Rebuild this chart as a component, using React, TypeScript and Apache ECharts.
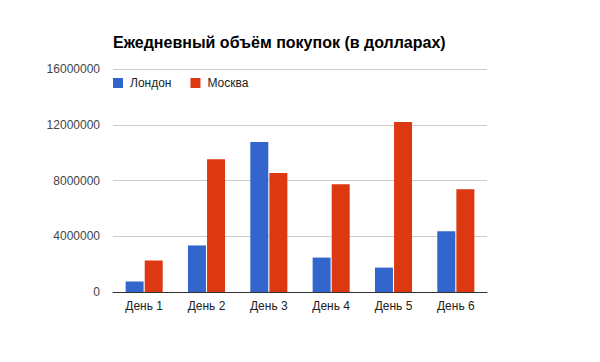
import React, { useEffect, useRef } from "react";
import * as echarts from "echarts";

const categories = ["День 1", "День 2", "День 3", "День 4", "День 5", "День 6"];
const london = [750000, 3340000, 10760000, 2470000, 1750000, 4350000];
const moscow = [2260000, 9530000, 8530000, 7730000, 12200000, 7370000];

const FONT = "Arial, 'Liberation Sans', sans-serif";

export default function App() {
  const ref = useRef<HTMLDivElement>(null);
  useEffect(() => {
    if (!ref.current) return;
    const chart = echarts.init(ref.current, undefined, { renderer: "svg" });
    chart.setOption({
      animation: false,
      backgroundColor: "#ffffff",
      title: {
        text: "Ежедневный объём покупок (в долларах)",
        left: 113,
        top: 34,
        padding: 0,
        textStyle: { fontFamily: FONT, fontSize: 16, fontWeight: "bold", color: "#000" },
      },
      legend: {
        left: 113,
        top: 77,
        padding: 0,
        itemWidth: 10,
        itemHeight: 10,
        itemGap: 19,
        icon: "rect",
        textStyle: { fontFamily: FONT, fontSize: 12, color: "#222", padding: [0, 0, 0, 2] },
        data: ["Лондон", "Москва"],
      },
      grid: { left: 113, right: 113, top: 69, bottom: 70, containLabel: false },
      xAxis: {
        type: "category",
        data: categories,
        axisLine: { lineStyle: { color: "#333", width: 1 } },
        axisTick: { show: false },
        axisLabel: { fontFamily: FONT, fontSize: 12, color: "#222", margin: 8 },
      },
      yAxis: {
        type: "value",
        min: 0,
        max: 16000000,
        interval: 4000000,
        axisLine: { show: false },
        axisTick: { show: false },
        splitLine: { lineStyle: { color: "#cccccc", width: 1 } },
        axisLabel: {
          fontFamily: FONT,
          fontSize: 12,
          color: "#444",
          margin: 13,
          formatter: (v: number) => String(v),
        },
      },
      series: [
        {
          name: "Лондон",
          type: "bar",
          data: london,
          barWidth: 18,
          barGap: "6%",
          itemStyle: { color: "#3366cc" },
        },
        {
          name: "Москва",
          type: "bar",
          data: moscow,
          barWidth: 18,
          barGap: "6%",
          itemStyle: { color: "#dc3912" },
        },
      ],
    });
    return () => chart.dispose();
  }, []);
  return (
    <div
      ref={ref}
      style={{ position: "fixed", left: 0, top: 0, width: 600, height: 362 }}
    />
  );
}
